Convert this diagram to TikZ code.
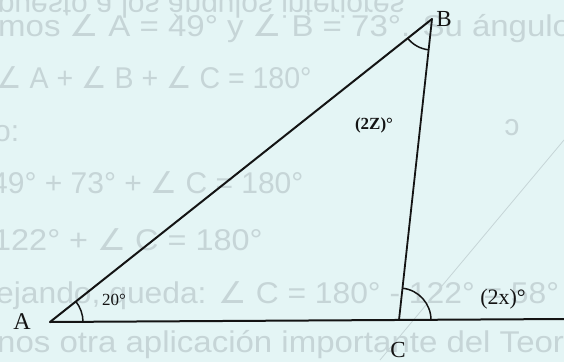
\documentclass[tikz,border=0pt]{standalone}
\usepackage{fontspec}
\setmainfont{Liberation Serif}
\newfontfamily\ghostfont{Liberation Sans}
\newfontfamily\symfont{DejaVu Sans}
\usetikzlibrary{calc}
\definecolor{paper}{RGB}{228,245,245}
\definecolor{ghost}{RGB}{198,213,215}
\definecolor{ink}{RGB}{20,20,20}
\newcommand{\ang}{{\symfont ∠}}
\tikzset{
  ghosttext/.style={text=ghost,font=\ghostfont\fontsize{30pt}{34pt}\selectfont,inner sep=0pt,anchor=base west},
  side/.style={draw=ink,line width=2pt,line cap=round},
  anglearc/.style={draw=ink,line width=1.5pt},
  vlabel/.style={text=ink,font=\fontsize{24pt}{28pt}\selectfont,inner sep=0pt},
  alabel/.style={text=ink,inner sep=0pt}
}
\begin{document}
\begin{tikzpicture}[x=1pt,y=1pt]
\fill[paper] (0,0) rectangle (564,362);
\useasboundingbox (0,0) rectangle (564,362);
% show-through text from the back of the page
\node[ghosttext,anchor=base east,yscale=-1] (g0) at (405,365) {exterior opuesto a los ángulos interiores};
\node[ghosttext,xscale=1.1] (g1) at (-2,325) {mos \ang\ A = 49° y \ang\ B = 73°. Su ángulo};
\node[ghosttext,xscale=0.95] (g2) at (-4,273) {\ang\ A + \ang\ B + \ang\ C = 180°};
\node[ghosttext] (g3) at (-6,221) {o:};
\node[ghosttext,xscale=-1,anchor=base] (g4) at (512,226) {c};
\node[ghosttext] (g5) at (-9,169) {49° + 73° + \ang\ C = 180°};
\node[ghosttext,xscale=1.08] (g6) at (-7,112) {122° + \ang\ C = 180°};
\node[ghosttext,xscale=1.06] (g7) at (-4,59) {ejando, queda: \ang\ C = 180° - 122° = 58°};
\node[ghosttext,xscale=1.1] (g8) at (-3,10) {nos otra aplicación importante del Teorema};
\coordinate (p1) at (380,2);
\coordinate (p2) at (564,222);
\draw[ghost,line width=0.8pt] (p1) -- (p2);
% triangle
\coordinate (A) at (50,40);
\coordinate (B) at (432,343);
\coordinate (C) at (399,42);
\coordinate (E) at (566,43);
\draw[side] (A) -- (B);
\draw[side,line width=1.8pt] (B) -- (C);
\draw[side] (A) -- (E);
% angle marks
\draw[anglearc] (A) ++(0.3:33) arc[start angle=0.3,end angle=38.4,radius=33];
\draw[anglearc] (B) ++(218.4:31) arc[start angle=218.4,end angle=263.7,radius=31];
\draw[anglearc] (C) ++(0.3:32) arc[start angle=0.3,end angle=83.7,radius=32];
% labels
\node[vlabel] (lA) at (22,40) {A};
\node[vlabel,font=\fontsize{23pt}{26pt}\selectfont] (lB) at (444,343) {B};
\node[vlabel,font=\fontsize{23pt}{26pt}\selectfont] (lC) at (398,12) {C};
\node[alabel,font=\fontsize{17pt}{20pt}\selectfont] (l20) at (114,62) {20°};
\node[alabel,font=\bfseries\fontsize{17pt}{20pt}\selectfont] (lZ) at (374,237) {(2Z)°};
\node[alabel,font=\fontsize{22pt}{26pt}\selectfont] (lx) at (503,63) {(2x)°};
\end{tikzpicture}
\end{document}
